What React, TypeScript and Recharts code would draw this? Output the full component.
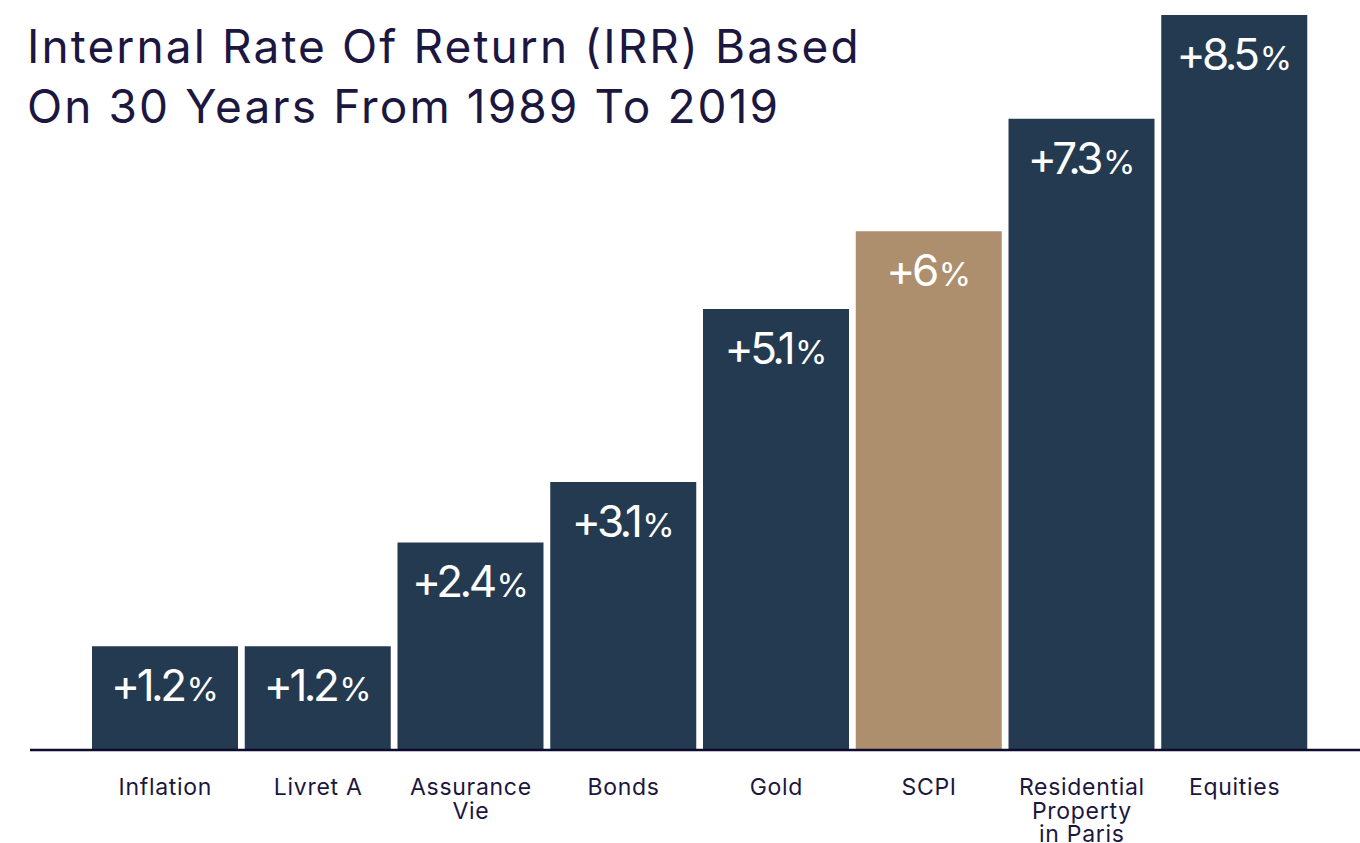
import React from "react";
import { BarChart, Bar, XAxis, YAxis, Cell, LabelList } from "recharts";

const CATEGORIES = [
  "Inflation",
  "Livret A",
  "Assurance\nVie",
  "Bonds",
  "Gold",
  "SCPI",
  "Residential\nProperty\nin Paris",
  "Equities",
];
const IRR = [1.2, 1.2, 2.4, 3.1, 5.1, 6, 7.3, 8.5];
const HIGHLIGHT = "SCPI";

const NAVY = "#243a50";
const SAND = "#ad8f6d";
const INK = "#1b1740";

const data = CATEGORIES.map((name, i) => ({ name, irr: IRR[i] }));

function CategoryTick(props: any) {
  const { x, y, payload } = props;
  const lines = String(payload.value).split("\n");
  return (
    <text
      x={x}
      y={y + 43}
      textAnchor="middle"
      fill={INK}
      fontSize={23}
      letterSpacing={0.7}
      fontFamily="Inter, 'Noto Sans', sans-serif"
    >
      {lines.map((line, i) => (
        <tspan key={i} x={x} dy={i === 0 ? 0 : 23.5}>
          {line}
        </tspan>
      ))}
    </text>
  );
}

function ValueLabel(props: any) {
  const { x, y, width, value } = props;
  return (
    <text
      x={x + width / 2}
      y={y + 55}
      textAnchor="middle"
      fill="#ffffff"
      fontFamily="Inter, 'Noto Sans', sans-serif"
    >
      <tspan fontSize={44} letterSpacing={-3.5}>+{value}</tspan>
      <tspan fontSize={33} dx={3}>%</tspan>
    </text>
  );
}

export default function App() {
  return (
    <div style={{ position: "absolute", left: 0, top: 0, width: 1360, height: 843, background: "#fff" }}>
      <div
        style={{
          position: "absolute",
          left: 27,
          top: 16,
          fontFamily: "Inter, 'Noto Sans', sans-serif",
          fontSize: 46,
          lineHeight: "60px",
          color: INK,
          letterSpacing: 2.1,
          zIndex: 2,
        }}
      >
        Internal Rate Of Return (IRR) Based
        <br />
        On 30 Years From 1989 To 2019
      </div>
      <BarChart
        width={1360}
        height={843}
        data={data}
        margin={{ top: 15, right: 0, bottom: 0, left: 30 }}
      >
        <YAxis hide domain={[0, 8.5]} />
        <XAxis
          dataKey="name"
          interval={0}
          height={93}
          padding={{ left: 59, right: 49 }}
          axisLine={{ stroke: "#0d0b2e", strokeWidth: 2.5 }}
          tickLine={false}
          tickSize={0}
          tick={<CategoryTick />}
        />
        <Bar dataKey="irr" barSize={146} isAnimationActive={false}>
          {data.map((d, i) => (
            <Cell key={`cell-${i}`} fill={d.name === HIGHLIGHT ? SAND : NAVY} />
          ))}
          <LabelList dataKey="irr" content={<ValueLabel />} />
        </Bar>
      </BarChart>
    </div>
  );
}
